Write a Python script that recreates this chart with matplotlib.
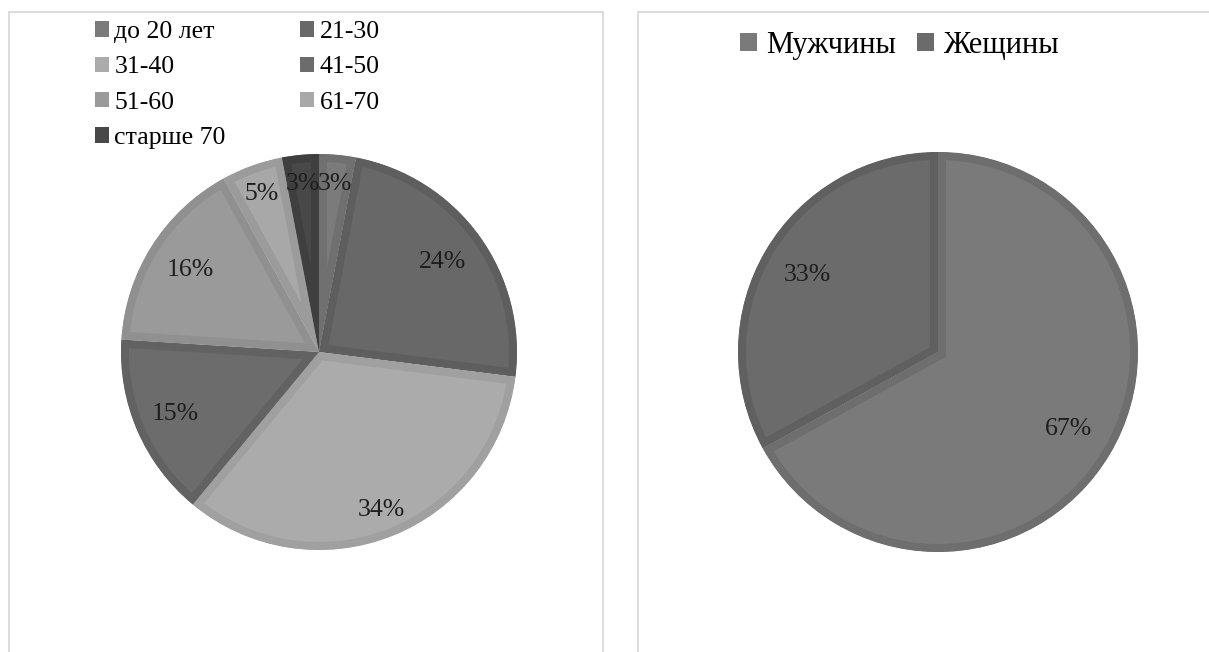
import numpy as np
import matplotlib.pyplot as plt
from matplotlib.patches import Patch, Rectangle

plt.rcParams['font.family'] = 'serif'
plt.rcParams['font.serif'] = ['Liberation Serif', 'Times New Roman', 'DejaVu Serif']

# возрастной состав
age_groups = ['до 20 лет', '21-30', '31-40', '41-50', '51-60', '61-70', 'старше 70']
age_share = [3, 24, 34, 15, 16, 5, 3]
age_fill = ['#7b7b7b', '#686868', '#ababab', '#6c6c6c', '#9a9a9a', '#a8a8a8', '#484848']
age_edge = ['#707070', '#5e5e5e', '#a0a0a0', '#626262', '#909090', '#9b9b9b', '#3f3f3f']
age_label_r = [0.85, 0.77, 0.86, 0.79, 0.77, 0.85, 0.85]

# половой состав
sex_groups = ['Мужчины', 'Жещины']
sex_share = [67, 33]
sex_fill = ['#7a7a7a', '#6b6b6b']
sex_edge = ['#6e6e6e', '#606060']
sex_label_r = [0.76, 0.76]

W, H = 1209, 652
fig = plt.figure(figsize=(W / 100, H / 100), dpi=100)

# рамки двух областей
for x0, x1 in [(9, 603), (638, 1230)]:
    fig.patches.append(Rectangle((x0 / W, -0.05), (x1 - x0) / W, 1 - 12 / H + 0.05,
                                 transform=fig.transFigure, fill=False,
                                 edgecolor='#d9d9d9', lw=1.3))


def pie_axes(cx, cy, r):
    box = r + 10
    ax = fig.add_axes([(cx - box) / W, 1 - (cy + box) / H, 2 * box / W, 2 * box / H])
    return ax, box


def draw_pie(ax, box, r, values, fills, edges, label_r):
    # толстая обводка, обрезанная по самому сектору -> полоса внутри
    wedges, _ = ax.pie(values, radius=r, startangle=90, counterclock=False,
                       colors=fills, wedgeprops=dict(linewidth=11.5))
    for w, ec in zip(wedges, edges):
        w.set_edgecolor(ec)
        w.set_joinstyle('miter')
        w.set_clip_on(True)
        w.set_clip_path(w)
    for w, v, lr in zip(wedges, values, label_r):
        t = np.deg2rad((w.theta1 + w.theta2) / 2)
        ax.text(lr * r * np.cos(t), lr * r * np.sin(t), f'{v}%',
                ha='center', va='center', fontsize=18.5, color='#1e1e1e')
    ax.set_xlim(-box, box)
    ax.set_ylim(-box, box)
    ax.axis('off')


ax1, b1 = pie_axes(319, 352, 198)
draw_pie(ax1, b1, 198, age_share, age_fill, age_edge, age_label_r)

ax2, b2 = pie_axes(938, 352, 200)
draw_pie(ax2, b2, 200, sex_share, sex_fill, sex_edge, sex_label_r)

# легенда слева: по строкам, два столбца
h_age = [Patch(facecolor=c, edgecolor='none', label=l) for c, l in zip(age_fill, age_groups)]
order = [0, 2, 4, 6, 1, 3, 5]
fig.legend([h_age[i] for i in order], [age_groups[i] for i in order],
           ncol=2, loc='upper left', bbox_to_anchor=(95 / W, 1 - 21 / H),
           frameon=False, fontsize=18.5, handlelength=0.55, handleheight=0.55,
           handletextpad=0.2, columnspacing=2.9, labelspacing=0.52, borderpad=0,
           borderaxespad=0)

h_sex = [Patch(facecolor=c, edgecolor='none', label=l) for c, l in zip(sex_fill, sex_groups)]
fig.legend(handles=h_sex, ncol=2, loc='upper left', bbox_to_anchor=(740 / W, 1 - 31 / H),
           frameon=False, fontsize=22, handlelength=0.55, handleheight=0.55,
           handletextpad=0.3, columnspacing=0.7, borderpad=0, borderaxespad=0)

fig.savefig('out.png', dpi=100, facecolor='white')
